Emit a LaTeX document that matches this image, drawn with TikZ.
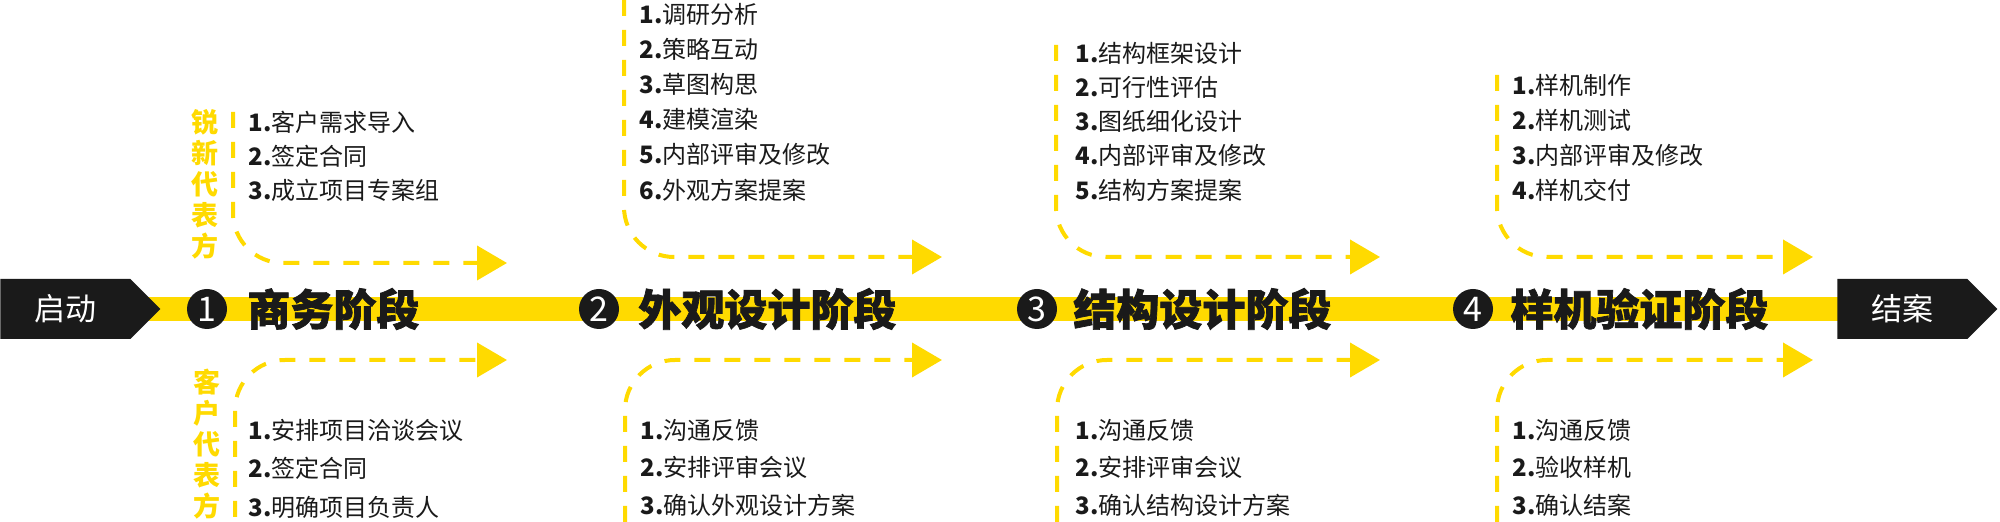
\documentclass[tikz,border=0pt]{standalone}
\usepackage{fontspec}
\setmainfont{Noto Sans CJK SC}
\newfontfamily\heavyfont{Noto Sans CJK SC}[BoldFeatures={FakeBold=1.6}]
\usetikzlibrary{arrows.meta,shapes.symbols,backgrounds}
\definecolor{yel}{HTML}{FFDA00}
\definecolor{ink}{HTML}{1A1A1A}
\begin{document}
\begin{tikzpicture}[x=0.5pt,y=-0.5pt,
  item/.style={anchor=west,inner sep=0pt,text=ink,font=\fontsize{12}{14}\selectfont},
  title/.style={anchor=west,inner sep=0pt,text=ink,font=\heavyfont\fontsize{21.5}{24}\selectfont\bfseries},
  sidelabel/.style={inner sep=0pt,text=yel,align=center,font=\fontsize{13.5}{15.5}\selectfont\bfseries},
  num/.style={circle,fill=ink,text=white,minimum size=20pt,inner sep=0pt,font=\fontsize{17}{17}\selectfont},
  endbox/.style={signal,signal to=east,signal pointer angle=90,fill=ink,text=white,minimum width=80pt,minimum height=30pt,inner sep=0pt,font=\fontsize{15.5}{15.5}\selectfont},
  band/.style={draw=yel,line width=12pt},
  flow/.style={draw=yel,line width=2pt,dash pattern=on 8pt off 7pt,rounded corners=25pt,-{Triangle[length=15pt,width=17pt,fill=yel]}}
]
\useasboundingbox (0,0) rectangle (2000,522);

% start / end boxes
\node[endbox,anchor=west] (start) at (0,309) {启动};
\node[endbox,anchor=east] (finish) at (1998,309) {结案};
\begin{scope}[on background layer]
  \draw[band] (start.center) -- (finish.center);
\end{scope}

% stage numbers and titles
\node[num] (c1) at (207,309) {1};
\node[num] (c2) at (599,309) {2};
\node[num] (c3) at (1037,309) {3};
\node[num] (c4) at (1473,309) {4};
\node[title] (t1) at (247,309) {商务阶段};
\node[title] (t2) at (638,309) {外观设计阶段};
\node[title] (t3) at (1073,309) {结构设计阶段};
\node[title] (t4) at (1510,309) {样机验证阶段};

% side labels
\node[sidelabel] (lab1) at (205,184) {锐\\新\\代\\表\\方};
\node[sidelabel] (lab2) at (207,444) {客\\户\\代\\表\\方};

% dashed flow arrows
\coordinate (f1ua) at (233,112);  \coordinate (f1ub) at (507,263);
\coordinate (f1la) at (235,517);  \coordinate (f1lb) at (507,360);
\coordinate (f2ua) at (624,0);    \coordinate (f2ub) at (942,257);
\coordinate (f2la) at (625,522);  \coordinate (f2lb) at (942,360);
\coordinate (f3ua) at (1056,45);  \coordinate (f3ub) at (1380,257);
\coordinate (f3la) at (1057,522); \coordinate (f3lb) at (1380,360);
\coordinate (f4ua) at (1497,75);  \coordinate (f4ub) at (1813,257);
\coordinate (f4la) at (1497,522); \coordinate (f4lb) at (1813,360);
\foreach \s in {1,2,3,4}{
  \draw[flow] (f\s ua) |- (f\s ub);
  \draw[flow] (f\s la) |- (f\s lb);
}

% item lists
\foreach \t [count=\i] in {客户需求导入,签定合同,成立项目专案组}
  \node[item] (sa\i) at (248,{122+34*(\i-1)}) {\textbf{\i.}\t};
\foreach \t [count=\i] in {安排项目洽谈会议,签定合同,明确项目负责人}
  \node[item] (sb\i) at (248,{430+38.5*(\i-1)}) {\textbf{\i.}\t};
\foreach \t [count=\i] in {调研分析,策略互动,草图构思,建模渲染,内部评审及修改,外观方案提案}
  \node[item] (sc\i) at (639,{14+35.2*(\i-1)}) {\textbf{\i.}\t};
\foreach \t [count=\i] in {沟通反馈,安排评审会议,确认外观设计方案}
  \node[item] (sd\i) at (640,{430+37.5*(\i-1)}) {\textbf{\i.}\t};
\foreach \t [count=\i] in {结构框架设计,可行性评估,图纸细化设计,内部评审及修改,结构方案提案}
  \node[item] (se\i) at (1075,{53+34.25*(\i-1)}) {\textbf{\i.}\t};
\foreach \t [count=\i] in {沟通反馈,安排评审会议,确认结构设计方案}
  \node[item] (sf\i) at (1075,{430+37.5*(\i-1)}) {\textbf{\i.}\t};
\foreach \t [count=\i] in {样机制作,样机测试,内部评审及修改,样机交付}
  \node[item] (sg\i) at (1512,{85+35*(\i-1)}) {\textbf{\i.}\t};
\foreach \t [count=\i] in {沟通反馈,验收样机,确认结案}
  \node[item] (sh\i) at (1512,{430+37.5*(\i-1)}) {\textbf{\i.}\t};
\end{tikzpicture}
\end{document}
